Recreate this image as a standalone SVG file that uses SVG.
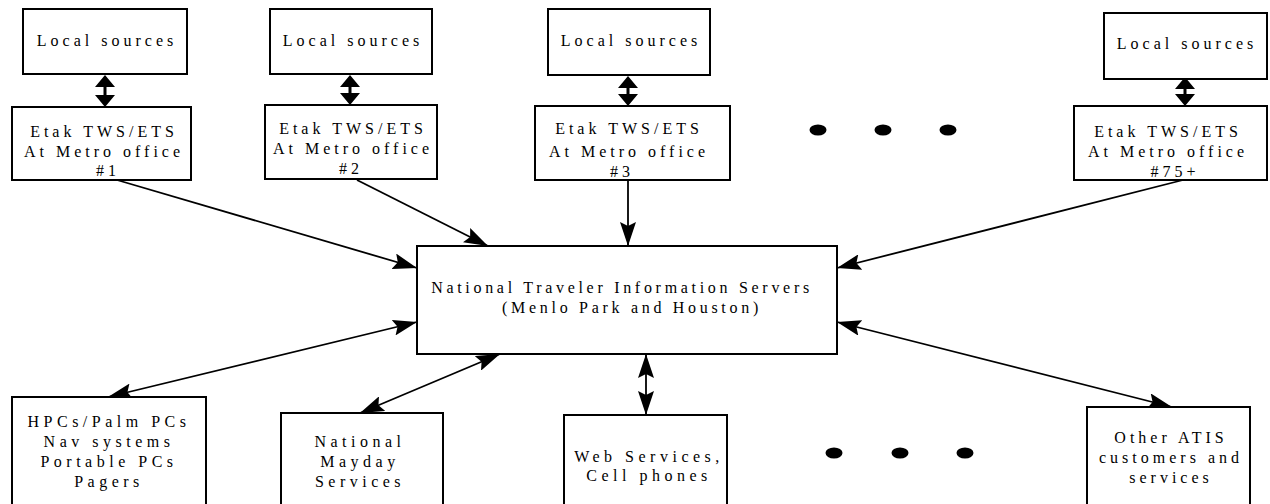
<svg xmlns="http://www.w3.org/2000/svg" width="1270" height="504" viewBox="0 0 1270 504">
<style>
.box{fill:#fff;stroke:#000;stroke-width:2}
.t{font-family:"Liberation Serif","Times New Roman",serif;font-size:16px;fill:#000;text-anchor:middle;letter-spacing:4px}
.tc{letter-spacing:3.7px}
.tb{letter-spacing:4.5px}
.c{fill:none;stroke:#000;stroke-width:1.8}
.fat{fill:#000;stroke:none}
.dot{fill:#000}
</style>
<defs>
<marker id="ah" markerUnits="userSpaceOnUse" viewBox="0 0 24 16" refX="24" refY="8" markerWidth="24" markerHeight="16" orient="auto-start-reverse">
<path d="M0,0 L24,8 L0,16 L4,8 Z" fill="#000"/>
</marker>
</defs>
<rect x="0" y="0" width="1270" height="504" fill="#fff"/>

<g id="connectors">
<path class="c" d="M117,180 L417,268" marker-end="url(#ah)"/>
<path class="c" d="M357,180 L488,246" marker-end="url(#ah)"/>
<path class="c" d="M628,180 L628,246" marker-end="url(#ah)"/>
<path class="c" d="M1183,180 L837,268" marker-end="url(#ah)"/>
<path class="c" d="M417,322 L108,397" marker-start="url(#ah)" marker-end="url(#ah)"/>
<path class="c" d="M500,354 L360,413" marker-start="url(#ah)" marker-end="url(#ah)"/>
<path class="c" d="M646,354 L646,415" marker-start="url(#ah)" marker-end="url(#ah)"/>
<path class="c" d="M837,322 L1172,407" marker-start="url(#ah)" marker-end="url(#ah)"/>
<path class="fat" d="M105,75 L115,87 L106.5,87 L106.5,95 L115,95 L105,107 L95,95 L103.5,95 L103.5,87 L95,87 Z"/>
<path class="fat" d="M350,75 L360,87 L351.5,87 L351.5,93 L360,93 L350,105 L340,93 L348.5,93 L348.5,87 L340,87 Z"/>
<path class="fat" d="M628,76 L638,88 L629.5,88 L629.5,94 L638,94 L628,106 L618,94 L626.5,94 L626.5,88 L618,88 Z"/>
<path class="fat" d="M1185,77 L1195,89 L1186.5,89 L1186.5,94 L1195,94 L1185,106 L1175,94 L1183.5,94 L1183.5,89 L1175,89 Z"/>
</g>

<g id="local1"><rect class="box" x="23" y="9" width="164" height="65"/><text class="t" x="107" y="46">Local sources</text></g>
<g id="local2"><rect class="box" x="270" y="9" width="162" height="65"/><text class="t" x="353" y="46">Local sources</text></g>
<g id="local3"><rect class="box" x="548" y="9" width="162" height="66"/><text class="t" x="631" y="46">Local sources</text></g>
<g id="local4"><rect class="box" x="1104" y="13" width="163" height="66"/><text class="t" x="1187" y="49">Local sources</text></g>

<g id="etak1"><rect class="box" x="12" y="107" width="179" height="73"/>
<text class="t" x="104" y="137">Etak TWS/ETS</text><text class="t" x="104" y="157">At Metro office</text><text class="t" x="108" y="176">#1</text></g>
<g id="etak2"><rect class="box" x="265" y="105" width="172" height="74"/>
<text class="t" x="353" y="134">Etak TWS/ETS</text><text class="t" x="353" y="154">At Metro office</text><text class="t" x="351" y="174">#2</text></g>
<g id="etak3"><rect class="box" x="535" y="106" width="195" height="74"/>
<text class="t" x="629" y="134">Etak TWS/ETS</text><text class="t" x="629" y="157">At Metro office</text><text class="t" x="622" y="177">#3</text></g>
<g id="etak4"><rect class="box" x="1074" y="106" width="193" height="74"/>
<text class="t" x="1168" y="137">Etak TWS/ETS</text><text class="t" x="1168" y="157">At Metro office</text><text class="t" x="1175" y="177">#75+</text></g>

<g id="dots-top"><ellipse class="dot" cx="818" cy="130" rx="8.5" ry="5.5"/><ellipse class="dot" cx="883" cy="130" rx="8.5" ry="5.5"/><ellipse class="dot" cx="948" cy="130" rx="8.5" ry="5.5"/></g>

<g id="nti"><rect class="box" x="417" y="246" width="420" height="108"/>
<text class="t tc" x="622" y="293">National Traveler Information Servers</text>
<text class="t tc" x="632" y="313">(Menlo Park and Houston)</text></g>

<g id="hpcs"><rect class="box" x="12" y="397" width="194" height="115"/>
<text class="t tb" x="109" y="427">HPCs/Palm PCs</text><text class="t tb" x="109" y="447">Nav systems</text><text class="t tb" x="109" y="467">Portable PCs</text><text class="t tb" x="109" y="487">Pagers</text></g>
<g id="mayday"><rect class="box" x="281" y="413" width="162" height="100"/>
<text class="t tb" x="360" y="447">National</text><text class="t tb" x="360" y="467">Mayday</text><text class="t tb" x="360" y="487">Services</text></g>
<g id="web"><rect class="box" x="564" y="415" width="163" height="100"/>
<text class="t tb" x="649" y="462">Web Services,</text><text class="t tb" x="649" y="481">Cell phones</text></g>
<g id="dots-bottom"><ellipse class="dot" cx="834" cy="453" rx="8.5" ry="5.5"/><ellipse class="dot" cx="900" cy="453" rx="8.5" ry="5.5"/><ellipse class="dot" cx="965" cy="453" rx="8.5" ry="5.5"/></g>
<g id="atis"><rect class="box" x="1087" y="407" width="163" height="105"/>
<text class="t" x="1171" y="443">Other ATIS</text><text class="t" x="1171" y="463">customers and</text><text class="t" x="1171" y="483">services</text></g>
</svg>
